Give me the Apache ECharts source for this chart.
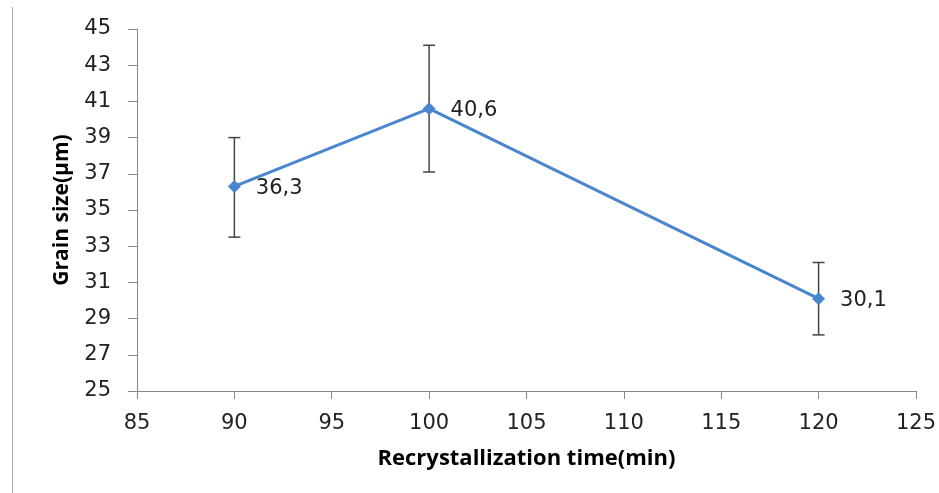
<!DOCTYPE html>
<html>
<head>
<meta charset="utf-8">
<script src="https://cdn.jsdelivr.net/npm/echarts@6/dist/echarts.min.js"></script>
<style>html,body{margin:0;padding:0;background:#fff}#c{width:939px;height:493px}</style>
</head>
<body>
<div id="c"></div>
<script>
var times = [90, 100, 120];
var grainSize = [36.3, 40.6, 30.1];
var errLow = [33.5, 37.1, 28.1];
var errHigh = [39.0, 44.1, 32.1];
var labels = ['36,3', '40,6', '30,1'];

var chart = echarts.init(document.getElementById('c'));
var lineData = times.map(function (t, i) { return [t, grainSize[i]]; });
var errData = times.map(function (t, i) { return [t, errLow[i], errHigh[i]]; });

chart.setOption({
  animation: false,
  grid: { left: 137, right: 22, top: 29, bottom: 102 },
  graphic: [{
    type: 'line', shape: { x1: 12.5, y1: 7, x2: 12.5, y2: 493 },
    style: { stroke: '#aaaaaa', lineWidth: 1 }
  }],
  xAxis: {
    type: 'value', min: 85, max: 125, interval: 5,
    name: 'Recrystallization time(min)', nameLocation: 'middle', nameGap: 57,
    nameTextStyle: { fontFamily: 'Open Sans', fontWeight: 'bold', fontSize: 22, color: '#000' },
    axisLine: { show: true, lineStyle: { color: '#888', width: 1 } },
    axisTick: { show: true, length: 8, lineStyle: { color: '#888' } },
    axisLabel: { fontFamily: 'DejaVu Sans', fontSize: 21, color: '#222', margin: 22 },
    splitLine: { show: false }
  },
  yAxis: {
    type: 'value', min: 25, max: 45, interval: 2,
    name: 'Grain size(µm)', nameLocation: 'middle', nameGap: 64,
    nameTextStyle: { fontFamily: 'Open Sans', fontWeight: 'bold', fontSize: 21, color: '#000' },
    axisLine: { show: true, lineStyle: { color: '#888', width: 1 } },
    axisTick: { show: true, length: 9, lineStyle: { color: '#888' } },
    axisLabel: { fontFamily: 'DejaVu Sans', fontSize: 21, color: '#222', margin: 26 },
    splitLine: { show: false }
  },
  series: [{
    type: 'custom',
    data: errData,
    z: 1,
    renderItem: function (params, api) {
      var x = api.value(0);
      var lo = api.coord([x, api.value(1)]);
      var hi = api.coord([x, api.value(2)]);
      var w = 6;
      var st = { stroke: '#444', lineWidth: 1.5 };
      return { type: 'group', children: [
        { type: 'line', shape: { x1: lo[0], y1: lo[1], x2: hi[0], y2: hi[1] }, style: st },
        { type: 'line', shape: { x1: lo[0] - w, y1: lo[1], x2: lo[0] + w, y2: lo[1] }, style: st },
        { type: 'line', shape: { x1: hi[0] - w, y1: hi[1], x2: hi[0] + w, y2: hi[1] }, style: st }
      ]};
    }
  }, {
    type: 'line',
    data: lineData,
    z: 2,
    symbol: 'diamond', symbolSize: 13,
    lineStyle: { color: '#4A86CF', width: 3 },
    itemStyle: { color: '#4A86CF' },
    label: {
      show: true, position: 'right', distance: 15, offset: [0, 2],
      fontFamily: 'DejaVu Sans', fontSize: 21, color: '#222',
      formatter: function (p) { return labels[p.dataIndex]; }
    }
  }]
});
</script>
</body>
</html>
